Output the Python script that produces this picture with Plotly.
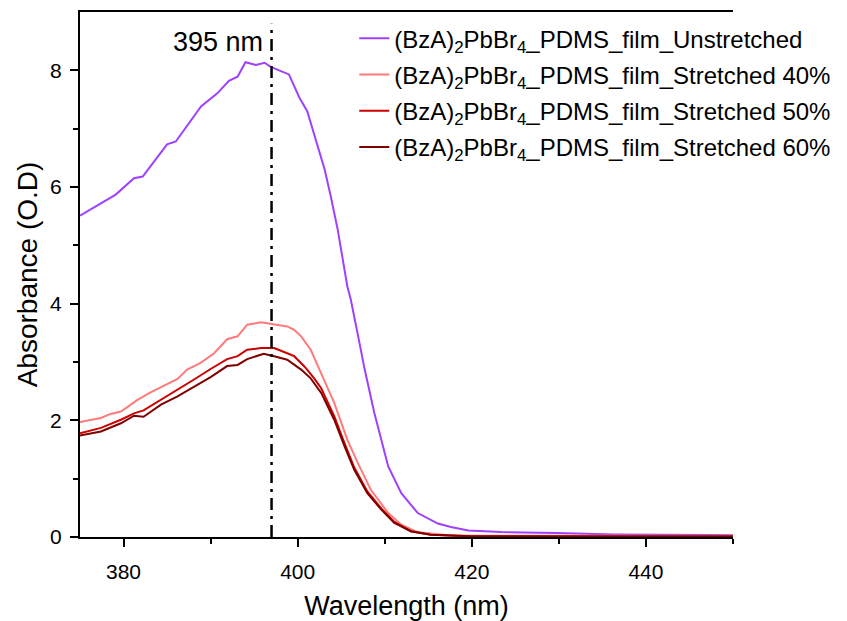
import plotly.graph_objects as go

# absorbance spectra (wavelength in nm, absorbance in O.D)
wl_unstretched = [375.0, 379.1, 381.2, 382.2, 385.0, 386.0, 388.9, 390.8, 392.1, 393.1,
                  394.0, 395.2, 396.2, 396.9, 399.0, 400.2, 401.1, 402.3, 403.1, 403.8,
                  404.6, 405.7, 406.1, 407.0, 407.7, 408.8, 410.4, 411.9, 413.8, 416.1,
                  417.6, 419.6, 423.4, 429.7, 436.4, 447.2, 450.0]
abs_unstretched = [5.51, 5.87, 6.15, 6.18, 6.73, 6.78, 7.38, 7.61, 7.82, 7.89,
                   8.14, 8.09, 8.13, 8.06, 7.93, 7.53, 7.30, 6.70, 6.30, 5.84,
                   5.27, 4.30, 4.07, 3.40, 2.87, 2.13, 1.21, 0.75, 0.41, 0.23,
                   0.17, 0.11, 0.085, 0.07, 0.045, 0.035, 0.03]

wl_s40 = [375.0, 377.4, 378.5, 379.7, 381.6, 383.1, 384.6, 386.2, 387.3, 388.9,
          390.4, 391.9, 393.1, 394.2, 395.8, 396.9, 398.8, 399.6, 400.4, 401.5,
          402.7, 404.2, 405.7, 406.9, 408.4, 410.4, 411.9, 413.8, 417.3, 420.0,
          435.0, 450.0]
abs_s40 = [1.97, 2.04, 2.11, 2.15, 2.35, 2.48, 2.59, 2.71, 2.87, 2.99,
           3.15, 3.39, 3.44, 3.64, 3.68, 3.65, 3.61, 3.55, 3.44, 3.21,
           2.81, 2.30, 1.67, 1.27, 0.81, 0.41, 0.21, 0.08, 0.03, 0.02,
           0.02, 0.02]

wl_s50 = [375.0, 377.4, 379.7, 381.2, 382.3, 384.3, 386.2, 388.1, 390.0, 391.9,
          393.1, 394.2, 395.8, 397.3, 398.8, 399.6, 400.8, 401.9, 402.7, 404.2,
          405.4, 406.5, 408.0, 409.6, 411.1, 413.0, 415.3, 420.0, 435.0, 450.0]
abs_s50 = [1.78, 1.87, 2.01, 2.12, 2.17, 2.35, 2.53, 2.70, 2.88, 3.05,
           3.10, 3.21, 3.24, 3.24, 3.15, 3.10, 2.92, 2.72, 2.55, 2.07,
           1.60, 1.19, 0.78, 0.49, 0.26, 0.10, 0.04, 0.015, 0.01, 0.01]

wl_s60 = [375.0, 377.4, 379.7, 381.2, 382.3, 384.3, 386.2, 388.1, 390.0, 391.9,
          393.1, 394.2, 396.1, 397.3, 398.8, 400.4, 401.5, 402.7, 404.2, 405.4,
          406.5, 408.0, 409.6, 411.1, 413.0, 415.3, 420.0, 435.0, 450.0]
abs_s60 = [1.74, 1.81, 1.95, 2.08, 2.06, 2.27, 2.41, 2.58, 2.74, 2.93,
           2.95, 3.05, 3.14, 3.10, 3.04, 2.87, 2.72, 2.47, 2.01, 1.55,
           1.15, 0.75, 0.47, 0.24, 0.10, 0.04, 0.01, 0.01, 0.01]

names = ["(BzA)<sub>2</sub>PbBr<sub>4</sub>_PDMS_film_Unstretched",
         "(BzA)<sub>2</sub>PbBr<sub>4</sub>_PDMS_film_Stretched 40%",
         "(BzA)<sub>2</sub>PbBr<sub>4</sub>_PDMS_film_Stretched 50%",
         "(BzA)<sub>2</sub>PbBr<sub>4</sub>_PDMS_film_Stretched 60%"]
colors = ["#A040FF", "#FF7B7B", "#CC0000", "#800000"]

peak_x = [397, 397]
peak_y = [0, 8.8]
peak_label = "395 nm"

FONT = "Liberation Sans, Arial, sans-serif"

fig = go.Figure()
series = [(wl_unstretched, abs_unstretched), (wl_s40, abs_s40),
          (wl_s50, abs_s50), (wl_s60, abs_s60)]
for i, (x, y) in enumerate(series):
    fig.add_trace(go.Scatter(x=x, y=y, mode="lines", name=names[i],
                             legendgroup=str(i),
                             line=dict(color=colors[i], width=2)))

fig.add_trace(go.Scatter(x=peak_x, y=peak_y, mode="lines", showlegend=False,
                         line=dict(color="black", width=2.5, dash="12px,6px,3px,6px")))

fig.add_annotation(x=peak_x[0], y=8.49, text=peak_label, showarrow=False,
                   xanchor="right", xshift=-7, font=dict(size=27, color="black"))

# page body adds 8px around the figure, so the figure is 8px smaller than the window
fig.update_layout(
    width=839, height=613,
    margin=dict(l=71.5, r=114, t=4, b=84),
    plot_bgcolor="white", paper_bgcolor="white",
    font=dict(family=FONT, color="black"),
    legend=dict(x=0.42, y=0.992, xanchor="left", yanchor="top",
                font=dict(size=24), bgcolor="rgba(0,0,0,0)",
                tracegroupgap=2),
)
fig.update_xaxes(range=[375, 450], tickvals=[380, 400, 420, 440],
                 showgrid=False, zeroline=False, automargin=False,
                 showline=True, linecolor="black", linewidth=2, mirror=True,
                 ticks="outside", ticklen=8, tickwidth=2, tickcolor="black",
                 tickfont=dict(size=21), ticklabelstandoff=7,
                 minor=dict(tickvals=[390, 410, 430, 450], ticks="outside",
                            ticklen=5, tickwidth=2, tickcolor="black"),
                 title=dict(text="Wavelength (nm)", font=dict(size=27), standoff=14))
fig.update_yaxes(range=[0, 9], tickvals=[0, 2, 4, 6, 8],
                 showgrid=False, zeroline=False, automargin=False,
                 showline=True, linecolor="black", linewidth=2,
                 ticks="outside", ticklen=8, tickwidth=2, tickcolor="black",
                 tickfont=dict(size=21), ticklabelstandoff=4,
                 minor=dict(tickvals=[1, 3, 5, 7], ticks="outside",
                            ticklen=5, tickwidth=2, tickcolor="black"),
                 title=dict(text="Absorbance (O.D)", font=dict(size=28), standoff=4))

fig.write_html("out.html")
